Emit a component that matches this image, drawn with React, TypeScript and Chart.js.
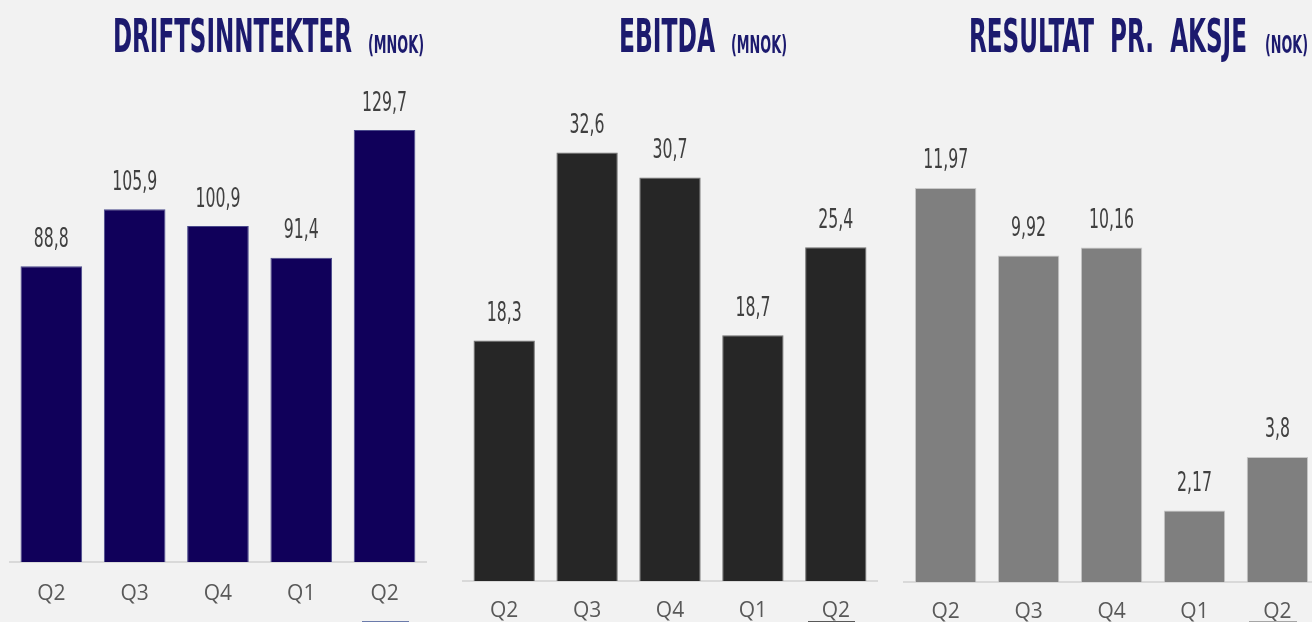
import React, { useEffect, useRef } from "react";
import { Chart, registerables } from "chart.js";

Chart.register(...registerables);

// ---- data ----
const quarters = ["Q2", "Q3", "Q4", "Q1", "Q2"];
const revenue = [88.8, 105.9, 100.9, 91.4, 129.7];
const ebitda = [18.3, 32.6, 30.7, 18.7, 25.4];
const eps = [11.97, 9.92, 10.16, 2.17, 3.8];
const revenueMax = 140;
const ebitdaMax = 35;
const epsMax = 14;

// ---- style ----
const BG = "#f2f2f2";
const TITLE_COLOR = "#1c1a6e";
const NARROW = "'Liberation Sans Narrow', 'DejaVu Sans Condensed', 'Liberation Sans', sans-serif";
const TICK_FONT = "'Open Sans', 'Liberation Sans', sans-serif";
const CANVAS_H = 660;

let measureCtx: CanvasRenderingContext2D | null = null;
function measure(text: string, font: string): number {
  if (!measureCtx) measureCtx = document.createElement("canvas").getContext("2d");
  measureCtx!.font = font;
  return measureCtx!.measureText(text).width;
}

const valueLabels = {
  id: "valueLabels",
  afterDatasetsDraw(chart: any) {
    const ctx = chart.ctx as CanvasRenderingContext2D;
    const meta = chart.getDatasetMeta(0);
    const data = chart.data.datasets[0].data as number[];
    ctx.save();
    ctx.font = `27px ${NARROW}`;
    const sx = 45 / ctx.measureText("129,7").width;
    ctx.fillStyle = "#404040";
    ctx.textAlign = "center";
    ctx.textBaseline = "alphabetic";
    meta.data.forEach((el: any, i: number) => {
      const txt = String(data[i]).replace(".", ",");
      ctx.save();
      ctx.translate(el.x, el.y - 19.5);
      ctx.scale(sx, 1);
      ctx.fillText(txt, 0, 0);
      ctx.restore();
    });
    ctx.restore();
  },
};

type PanelProps = {
  values: number[];
  max: number;
  color: string;
  border: string;
  left: number;
  padL: number;
  padR: number;
  plotTop: number;
  plotBottom: number;
  tickPad: number;
};

function BarPanel({ values, max, color, border, left, padL, padR, plotTop, plotBottom, tickPad }: PanelProps) {
  const ref = useRef<HTMLCanvasElement>(null);
  useEffect(() => {
    if (!ref.current) return;
    const lineH = 21 * 1.2;
    const bottom = CANVAS_H - plotBottom - 2 * tickPad - lineH;
    const chart = new Chart(ref.current, {
      type: "bar",
      data: {
        labels: quarters,
        datasets: [
          {
            data: values,
            backgroundColor: color,
            borderColor: border,
            borderWidth: 1,
            barPercentage: 0.74,
            categoryPercentage: 1,
          },
        ],
      },
      options: {
        animation: false,
        responsive: false,
        devicePixelRatio: 1,
        layout: { padding: { left: padL, right: padR, top: plotTop, bottom } },
        plugins: { legend: { display: false }, tooltip: { enabled: false }, title: { display: false } },
        scales: {
          x: {
            grid: { display: false, drawTicks: false },
            border: { display: true, color: "#d9d9d9", width: 2 },
            ticks: { color: "#595959", font: { family: TICK_FONT, size: 21 }, padding: tickPad, maxRotation: 0 },
          },
          y: { display: false, min: 0, max },
        },
      },
      plugins: [valueLabels],
    });
    return () => chart.destroy();
  }, []);
  return (
    <canvas
      ref={ref}
      width={440}
      height={CANVAS_H}
      style={{ position: "absolute", left, top: 0, width: 440, height: CANVAS_H }}
    />
  );
}

function ScaledText({ text, left, baseline, size, width }: { text: string; left: number; baseline: number; size: number; width: number }) {
  const font = `bold ${size}px ${NARROW}`;
  const w = measure(text, font) || width;
  const sx = width / w;
  return (
    <div
      style={{
        position: "absolute",
        left,
        top: baseline - 0.8465 * size,
        fontFamily: NARROW,
        fontWeight: "bold",
        fontSize: size,
        lineHeight: `${size}px`,
        color: TITLE_COLOR,
        whiteSpace: "pre",
        transform: `scaleX(${sx})`,
        transformOrigin: "left top",
      }}
    >
      {text}
    </div>
  );
}

export default function App() {
  return (
    <div
      style={{
        position: "fixed",
        left: 0,
        top: 0,
        width: 1312,
        height: 622,
        overflow: "hidden",
        background: BG,
      }}
    >
      <BarPanel values={revenue} max={revenueMax} color="#10005a" border="#4a4a8c" left={0}
        padL={9.7} padR={13.8} plotTop={95.8} plotBottom={562} tickPad={19} />
      <BarPanel values={ebitda} max={ebitdaMax} color="#262626" border="#6f6f6f" left={440}
        padL={22.75} padR={2.75} plotTop={121} plotBottom={581} tickPad={17} />
      <BarPanel values={eps} max={epsMax} color="#7f7f7f" border="#c8c8c8" left={880}
        padL={24.2} padR={1.1} plotTop={121.1} plotBottom={582} tickPad={17} />

      <ScaledText text="DRIFTSINNTEKTER" left={113} baseline={52.3} size={46.5} width={239} />
      <ScaledText text="(MNOK)" left={368} baseline={54} size={25.5} width={56} />
      <ScaledText text="EBITDA" left={619} baseline={52.3} size={46.5} width={96} />
      <ScaledText text="(MNOK)" left={731} baseline={54} size={25.5} width={56} />
      <ScaledText text={"RESULTAT  PR.  AKSJE"} left={969} baseline={52.3} size={46.5} width={278} />
      <ScaledText text="(NOK)" left={1265} baseline={54} size={25.5} width={43} />

      <div style={{ position: "absolute", left: 362, top: 621, width: 47, height: 1, background: "#6b7bab" }} />
      <div style={{ position: "absolute", left: 808, top: 621, width: 47, height: 1, background: "#595959" }} />
      <div style={{ position: "absolute", left: 1249, top: 621, width: 48, height: 1, background: "#a6a6a6" }} />
    </div>
  );
}
